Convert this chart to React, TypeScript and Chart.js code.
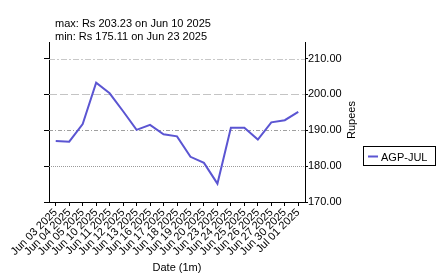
import React, { useEffect, useRef } from "react";
import { Chart, registerables } from "chart.js";

Chart.register(...registerables);

const categories = [
  "Jun 03 2025", "Jun 04 2025", "Jun 05 2025", "Jun 10 2025", "Jun 11 2025",
  "Jun 12 2025", "Jun 13 2025", "Jun 16 2025", "Jun 17 2025", "Jun 18 2025",
  "Jun 19 2025", "Jun 20 2025", "Jun 23 2025", "Jun 24 2025", "Jun 25 2025",
  "Jun 26 2025", "Jun 27 2025", "Jun 30 2025", "Jul 01 2025",
];
const prices = [
  187.0, 186.8, 191.7, 203.23, 200.3, 195.3, 190.1, 191.5, 188.9, 188.3,
  182.6, 180.9, 175.11, 190.7, 190.7, 187.4, 192.2, 192.8, 195.1,
];
const yTicks = [170, 180, 190, 200, 210];
const titleLines = ["max: Rs 203.23 on Jun 10 2025", "min: Rs 175.11 on Jun 23 2025"];
const seriesName = "AGP-JUL";
const xTitle = "Date (1m)";
const yTitle = "Rupees";

const FONT = "Liberation Sans, Arial, Helvetica, sans-serif";
const LINE_COLOR = "#5b55d2";

const gridStyles: Record<number, { dash: number[]; color: string }> = {
  210: { dash: [6, 2, 2, 2], color: "#c8c8c8" },
  200: { dash: [8, 3], color: "#c4c4c4" },
  190: { dash: [4, 2, 1, 2], color: "#a0a0a0" },
  180: { dash: [1, 1], color: "#9a9a9a" },
};

const customPlugin = {
  id: "custom",
  beforeDatasetsDraw(chart: any) {
    const { ctx, chartArea } = chart;
    const y = chart.scales.y;
    ctx.save();
    ctx.lineWidth = 1;
    yTicks.forEach((v) => {
      const st = gridStyles[v];
      if (!st) return;
      const py = Math.round(y.getPixelForValue(v)) + 0.5;
      ctx.strokeStyle = st.color;
      ctx.setLineDash(st.dash);
      ctx.beginPath();
      ctx.moveTo(chartArea.left, py);
      ctx.lineTo(chartArea.right, py);
      ctx.stroke();
    });
    ctx.restore();
  },
  afterDraw(chart: any) {
    const { ctx, chartArea } = chart;
    ctx.save();
    ctx.fillStyle = "#000";
    ctx.font = `11px ${FONT}`;
    ctx.textAlign = "left";
    ctx.textBaseline = "alphabetic";
    ctx.fillText(titleLines[0], 55, 27);
    ctx.fillText(titleLines[1], 55, 39.5);
    // x title
    ctx.textAlign = "center";
    ctx.fillText(xTitle, (chartArea.left + chartArea.right) / 2, 271);
    // y title (right, reads bottom-to-top)
    ctx.save();
    ctx.translate(352, 120);
    ctx.rotate(-Math.PI / 2);
    ctx.textAlign = "center";
    ctx.textBaseline = "middle";
    ctx.fillText(yTitle, 0, 0);
    ctx.restore();
    // legend
    ctx.strokeStyle = "#000";
    ctx.lineWidth = 1;
    ctx.strokeRect(363.5, 146.5, 72, 19);
    ctx.strokeStyle = LINE_COLOR;
    ctx.lineWidth = 2;
    ctx.beginPath();
    ctx.moveTo(368, 156.5);
    ctx.lineTo(378, 156.5);
    ctx.stroke();
    ctx.textAlign = "left";
    ctx.textBaseline = "alphabetic";
    ctx.fillText(seriesName, 381, 160.5);
    ctx.restore();
  },
};

export default function App() {
  const ref = useRef<HTMLCanvasElement | null>(null);
  useEffect(() => {
    if (!ref.current) return;
    const setTicks = (scale: any) => {
      scale.ticks = yTicks.map((v) => ({ value: v }));
    };
    const chart = new Chart(ref.current, {
      type: "line",
      data: {
        labels: categories,
        datasets: [
          {
            label: seriesName,
            data: prices,
            borderColor: LINE_COLOR,
            borderWidth: 2,
            pointRadius: 0,
            tension: 0,
            fill: false,
            yAxisID: "y",
          },
        ],
      },
      options: {
        animation: false,
        responsive: false,
        layout: { padding: { top: 42, left: 0, right: 0, bottom: 0 } },
        plugins: { legend: { display: false }, title: { display: false }, tooltip: { enabled: false } },
        scales: {
          x: {
            type: "category",
            offset: true,
            grid: { drawOnChartArea: false, tickLength: 4, color: "#000", offset: false },
            border: { color: "#000", width: 1 },
            ticks: {
              color: "#000",
              font: { family: FONT, size: 11 },
              maxRotation: 45,
              minRotation: 45,
              autoSkip: false,
              padding: 0,
            },
            afterFit: (s: any) => {
              s.height = 72;
            },
          },
          y: {
            position: "left",
            min: 170,
            max: 214.6,
            afterBuildTicks: setTicks,
            grid: { drawOnChartArea: false, tickLength: 5, color: "#000" },
            border: { color: "#000", width: 1 },
            ticks: { display: false },
            afterFit: (s: any) => {
              s.width = 49;
            },
          },
          y2: {
            position: "right",
            min: 170,
            max: 214.6,
            afterBuildTicks: setTicks,
            grid: { drawOnChartArea: false, tickLength: 3, color: "#000" },
            border: { color: "#000", width: 1 },
            ticks: {
              color: "#000",
              font: { family: FONT, size: 11 },
              padding: 0,
              callback: (v: any) => Number(v).toFixed(2),
            },
            afterFit: (s: any) => {
              s.width = 134;
            },
          },
        },
      },
      plugins: [customPlugin],
    });
    return () => chart.destroy();
  }, []);
  return (
    <div style={{ position: "fixed", left: 0, top: 0, width: 439, height: 274, background: "#fff" }}>
      <canvas ref={ref} width={439} height={274} style={{ width: 439, height: 274 }} />
    </div>
  );
}
